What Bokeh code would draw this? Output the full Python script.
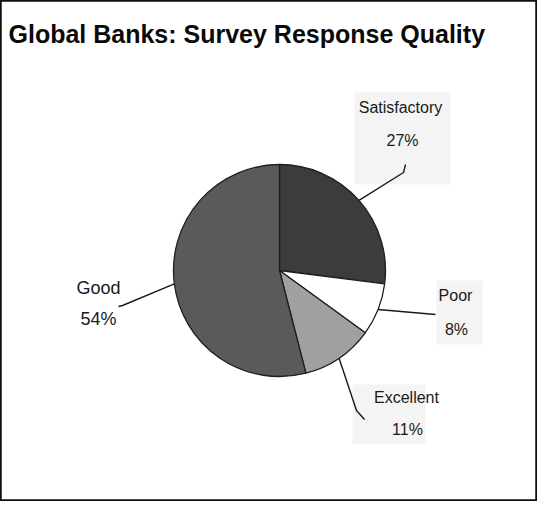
import math
from bokeh.plotting import figure
from bokeh.models import ColumnDataSource, Range1d
from bokeh.core.properties import value
from bokeh.embed import file_html
from bokeh.resources import INLINE

# ---- data ----
title = "Global Banks: Survey Response Quality"
categories = ["Satisfactory", "Poor", "Excellent", "Good"]
shares = [27, 8, 11, 54]
pct_labels = ["27%", "8%", "11%", "54%"]
colors = ["#3c3c3c", "#ffffff", "#a0a0a0", "#5a5a5a"]

# ---- layout (page pixels: figure starts at page x=8, y=8) ----
W, H = 537, 501
def dx(sx): return sx - 8
def dy(sy): return 509 - sy

cx, cy, R = dx(287), dy(278), 106

# label anchor (name centre, pct centre) in page px
name_pos = [(408, 115), (463, 303), (414, 405), (106, 295)]
pct_pos = [(410, 148), (464, 337), (415, 437), (106, 326)]
font_sizes = ["16px", "16px", "16px", "18px"]
# leader-line elbow / end points in page px
leader_pts = [
    [(411, 180), (413, 172)],
    [(443, 322)],
    [(364, 418), (372, 427)],
    [(130, 313), (126, 314)],
]
# faint scan-grey label boxes (page px): left, top, right, bottom
boxes = [(362, 100, 458, 192), (444, 288, 490, 352), (360, 392, 433, 452)]

p = figure(width=W, height=H, output_backend="svg", toolbar_location=None,
           x_range=Range1d(0, W), y_range=Range1d(0, H),
           x_axis_location=None, y_axis_location=None, min_border=0)
p.grid.visible = False
p.outline_line_color = "#111111"
p.outline_line_width = 2.5
p.background_fill_color = "white"
p.border_fill_color = "white"

# label boxes
for (l, t, r, b) in boxes:
    p.quad(left=dx(l), right=dx(r), top=dy(t), bottom=dy(b),
           fill_color="#f4f4f4", line_color=None)

# pie wedges
starts, ends, mids = [], [], []
cum = 0
for s in shares:
    a0 = math.pi / 2 - 2 * math.pi * cum / 100
    cum += s
    a1 = math.pi / 2 - 2 * math.pi * cum / 100
    starts.append(a0)
    ends.append(a1)
    mids.append((a0 + a1) / 2)

src = ColumnDataSource(dict(cat=categories, share=shares, start=starts, end=ends,
                            color=colors))
p.wedge(x=cx, y=cy, radius=R, start_angle="start", end_angle="end",
        direction="clock", fill_color="color", line_color="#1e1e1e",
        line_width=1.3, source=src)

# leader lines
for m, pts in zip(mids, leader_pts):
    xs = [cx + R * math.cos(m)] + [dx(px) for px, _ in pts]
    ys = [cy + R * math.sin(m)] + [dy(py) for _, py in pts]
    p.line(xs, ys, line_color="#1a1a1a", line_width=1.4)

# labels
for cat, pct, (nx, ny), (qx, qy), fs in zip(categories, pct_labels, name_pos, pct_pos, font_sizes):
    p.text(x=[dx(nx)], y=[dy(ny)], text=[cat], text_align="center",
           text_baseline="middle", text_font=value("Liberation Sans"),
           text_font_size=fs, text_color="#1a1a1a")
    p.text(x=[dx(qx)], y=[dy(qy)], text=[pct], text_align="center",
           text_baseline="middle", text_font=value("Liberation Sans"),
           text_font_size=fs, text_color="#1a1a1a")

# title
p.text(x=[dx(16)], y=[dy(41)], text=[title], text_align="left",
       text_baseline="middle", text_font=value("Liberation Sans"),
       text_font_style="bold", text_font_size="25px", text_color="#0a0a0a")

open("out.html", "w").write(file_html(p, INLINE))
